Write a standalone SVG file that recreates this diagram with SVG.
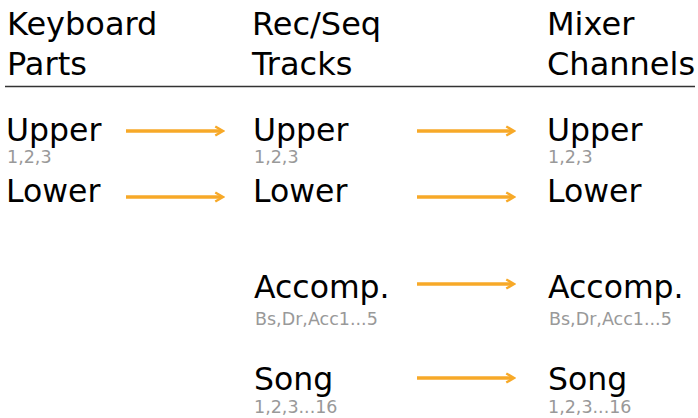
<svg xmlns="http://www.w3.org/2000/svg" width="698" height="418" viewBox="0 0 698 418">
<style>
.h{font-family:"DejaVu Sans","Liberation Sans",sans-serif;font-size:32px;fill:#000}
.n{font-family:"DejaVu Sans","Liberation Sans",sans-serif;font-size:31.5px;fill:#000}
.s{font-family:"DejaVu Sans","Liberation Sans",sans-serif;font-size:17.5px;fill:#999}
.a{stroke:#f7a928;stroke-width:3.5;fill:none;marker-end:url(#ah)}
</style>
<defs>
<marker id="ah" viewBox="0 0 10 10" refX="7" refY="5" markerWidth="3.2" markerHeight="3.2" orient="auto" markerUnits="strokeWidth">
<path d="M1,1 L8,5 L1,9" fill="none" stroke="#f7a928" stroke-width="2.2"/>
</marker>
</defs>
<rect width="698" height="418" fill="#fff"/>
<g id="headers">
<text class="h" x="7" y="35">Keyboard</text>
<text class="h" x="7" y="75">Parts</text>
<text class="h" x="252" y="35">Rec/Seq</text>
<text class="h" x="252" y="75">Tracks</text>
<text class="h" x="547" y="35">Mixer</text>
<text class="h" x="547" y="75">Channels</text>
<line x1="5" y1="86.5" x2="695" y2="86.5" stroke="#333" stroke-width="1.5"/>
</g>
<g id="kb-upper"><text class="n" x="6" y="141">Upper</text><text class="s" x="7" y="163">1,2,3</text></g>
<g id="kb-lower"><text class="n" x="6" y="202">Lower</text></g>
<g id="rs-upper"><text class="n" x="253" y="141">Upper</text><text class="s" x="254" y="163">1,2,3</text></g>
<g id="rs-lower"><text class="n" x="253" y="202">Lower</text></g>
<g id="rs-accomp"><text class="n" x="254" y="298">Accomp.</text><text class="s" x="255" y="325">Bs,Dr,Acc1...5</text></g>
<g id="rs-song"><text class="n" x="254" y="390">Song</text><text class="s" x="254" y="413">1,2,3...16</text></g>
<g id="mx-upper"><text class="n" x="547" y="141">Upper</text><text class="s" x="548" y="163">1,2,3</text></g>
<g id="mx-lower"><text class="n" x="547" y="202">Lower</text></g>
<g id="mx-accomp"><text class="n" x="548" y="298">Accomp.</text><text class="s" x="549" y="325">Bs,Dr,Acc1...5</text></g>
<g id="mx-song"><text class="n" x="548" y="390">Song</text><text class="s" x="548" y="413">1,2,3...16</text></g>
<g id="connectors">
<line class="a" x1="126" y1="131" x2="222" y2="131"/>
<line class="a" x1="126" y1="197" x2="222" y2="197"/>
<line class="a" x1="417" y1="131" x2="513" y2="131"/>
<line class="a" x1="417" y1="197" x2="513" y2="197"/>
<line class="a" x1="417" y1="284" x2="513" y2="284"/>
<line class="a" x1="417" y1="378" x2="513" y2="378"/>
</g>
</svg>
